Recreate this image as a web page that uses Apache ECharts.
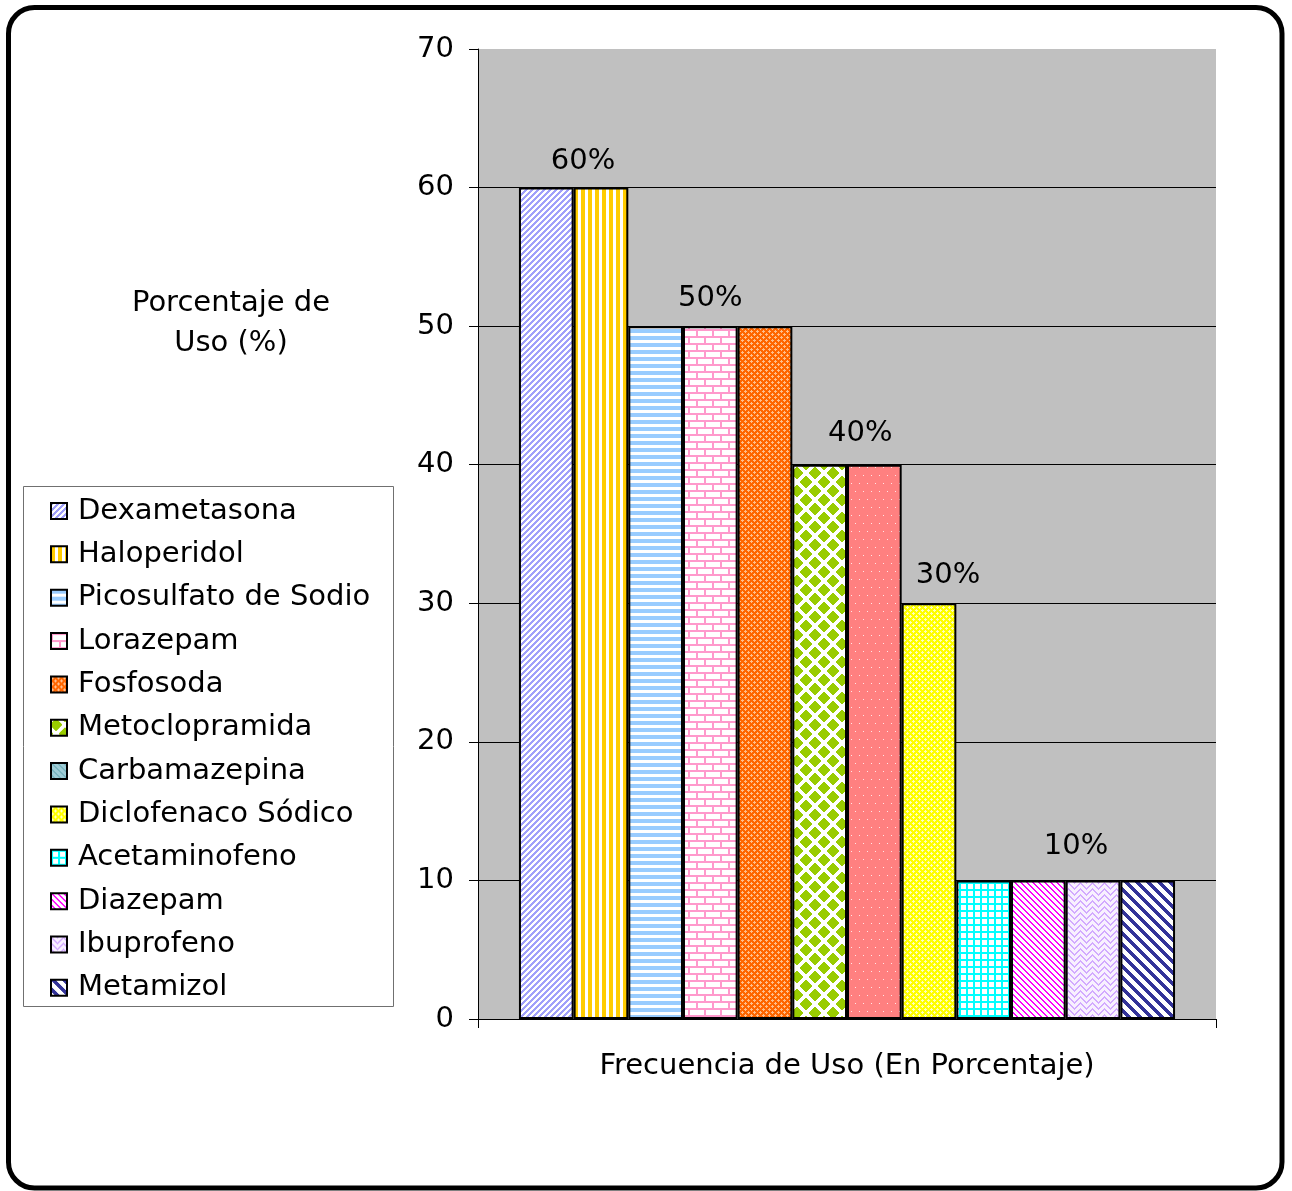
<!DOCTYPE html>
<html>
<head>
<meta charset="utf-8">
<title>Frecuencia de Uso</title>
<script src="https://cdn.jsdelivr.net/npm/echarts@6/dist/echarts.min.js"></script>
<style>
  html, body { margin: 0; padding: 0; background: #ffffff; }
  #chart { width: 1292px; height: 1191px; }
</style>
</head>
<body>
<div id="chart"></div>
<script>
// Medicamentos y porcentaje de uso
var medicamentos = ['Dexametasona', 'Haloperidol', 'Picosulfato de Sodio', 'Lorazepam', 'Fosfosoda',
  'Metoclopramida', 'Carbamazepina', 'Diclofenaco Sódico', 'Acetaminofeno', 'Diazepam', 'Ibuprofeno', 'Metamizol'];
var porcentajes = [60, 60, 50, 50, 50, 40, 40, 30, 10, 10, 10, 10];
// Series that carry the percentage label, with the label's shift [x, y]
var etiquetas = {
  'Haloperidol': [-18, 2], 'Lorazepam': [0, 0], 'Carbamazepina': [-14, -3],
  'Diclofenaco Sódico': [19, 0], 'Ibuprofeno': [-17, -6]
};
var categorias = ['Frecuencia'];
var ejeY = { min: 0, max: 70, interval: 10 };

var FONT = 'DejaVu Sans';
var FS = 29;

// Build a repeating pixel tile from a colour function
function tile(w, h, fn) {
  var c = document.createElement('canvas');
  c.width = w; c.height = h;
  var ctx = c.getContext('2d');
  var img = ctx.createImageData(w, h);
  for (var y = 0; y < h; y++) {
    for (var x = 0; x < w; x++) {
      var col = fn(x, y);
      var i = (y * w + x) * 4;
      img.data[i] = col[0]; img.data[i + 1] = col[1]; img.data[i + 2] = col[2]; img.data[i + 3] = 255;
    }
  }
  ctx.putImageData(img, 0, 0);
  return { image: c, repeat: 'repeat' };
}
function mod(a, n) { return ((a % n) + n) % n; }
var W = [255, 255, 255];

var rellenos = {
  'Dexametasona': tile(6, 6, function (x, y) { return mod(x + y, 6) < 3 ? [160, 160, 250] : W; }),
  'Haloperidol': tile(7, 1, function (x) { return x < 4 ? [255, 204, 0] : W; }),
  'Picosulfato de Sodio': tile(1, 7, function (x, y) { return y < 4 ? [153, 204, 255] : W; }),
  'Lorazepam': tile(16, 14, function (x, y) {
    var pink = [255, 153, 204];
    if (y % 7 < 2) return pink;
    if (y < 7 && x < 2) return pink;
    if (y >= 7 && x >= 8 && x < 10) return pink;
    return W;
  }),
  'Fosfosoda': tile(6, 6, function (x, y) {
    var dots = [[1,0],[0,1],[1,1],[2,1],[1,2],[4,3],[3,4],[4,4],[5,4],[4,5]];
    for (var k = 0; k < dots.length; k++) if (dots[k][0] === x && dots[k][1] === y) return [255, 190, 140];
    return [255, 102, 0];
  }),
  'Metoclopramida': tile(18, 18, function (x, y) {
    // green diamonds on white
    var d1 = Math.abs(x - 4.5) + Math.abs(y - 4.5);
    var d2 = Math.abs(x - 13.5) + Math.abs(y - 13.5);
    var d3 = Math.abs(x - 13.5) + Math.abs(y + 4.5);
    var d4 = Math.abs(x + 4.5) + Math.abs(y - 13.5);
    var d5 = Math.abs(x - 22.5) + Math.abs(y - 4.5);
    var d6 = Math.abs(x - 4.5) + Math.abs(y - 22.5);
    var r = 6.6;
    return (d1 < r || d2 < r || d3 < r || d4 < r || d5 < r || d6 < r) ? [153, 204, 0] : W;
  }),
  'Carbamazepina': tile(16, 16, function (x, y) {
    var white = (mod(x, 8) === 3 && y === 3) || (mod(x, 8) === 7 && y === 11);
    return white ? [255, 230, 230] : [255, 128, 128];
  }),
  'Diclofenaco Sódico': tile(6, 6, function (x, y) {
    var dots = [[1,0],[0,1],[1,1],[2,1],[1,2],[4,3],[3,4],[4,4],[5,4],[4,5]];
    for (var k = 0; k < dots.length; k++) if (dots[k][0] === x && dots[k][1] === y) return [255, 255, 190];
    return [255, 255, 0];
  }),
  'Acetaminofeno': tile(7, 7, function (x, y) { return (x < 2 || y < 2) ? [0, 255, 255] : W; }),
  'Diazepam': tile(6, 6, function (x, y) { return mod(x - y, 6) < 2 ? [255, 0, 255] : W; }),
  'Ibuprofeno': tile(12, 12, function (x, y) {
    var d = Math.abs(x - 6);
    return mod(d + y, 6) < 2 ? [210, 170, 255] : [248, 240, 255];
  }),
  'Metamizol': tile(11, 11, function (x, y) { return mod(x - y, 11) < 5 ? [51, 51, 153] : W; })
};
// Legend swatch of Carbamazepina
var muestraCarbamazepina = tile(6, 6, function (x, y) { return mod(x - y, 6) < 2 ? [120, 180, 190] : [160, 205, 215]; });

var series = medicamentos.map(function (nombre, i) {
  var s = {
    name: nombre,
    type: 'bar',
    data: [porcentajes[i]],
    barGap: '0%',
    barCategoryGap: '11.1%',
    itemStyle: { color: rellenos[nombre], borderColor: '#000000', borderWidth: 2 },
    emphasis: { disabled: true }
  };
  if (etiquetas.hasOwnProperty(nombre)) {
    s.label = {
      show: true, position: 'top', distance: 14, offset: etiquetas[nombre],
      formatter: '{c}%', color: '#000', fontFamily: FONT, fontSize: FS, lineHeight: 28
    };
  }
  return s;
});

var legendData = medicamentos.map(function (nombre) {
  var item = { name: nombre };
  if (nombre === 'Carbamazepina') item.itemStyle = { color: muestraCarbamazepina };
  return item;
});

var chart = echarts.init(document.getElementById('chart'), null, { renderer: 'canvas' });
chart.setOption({
  animation: false,
  backgroundColor: '#ffffff',
  grid: {
    left: 478, top: 49, width: 738, height: 970,
    show: true, backgroundColor: '#c0c0c0', borderWidth: 0
  },
  legend: {
    orient: 'vertical', left: 45, top: 491,
    data: legendData,
    icon: 'rect', itemWidth: 16, itemHeight: 16, itemGap: 13.35,
    itemStyle: { borderColor: '#000', borderWidth: 2 },
    textStyle: { fontFamily: FONT, fontSize: FS, lineHeight: 30, color: '#000', padding: [0, 0, 0, 6] },
    selectedMode: false
  },
  xAxis: {
    type: 'category', data: categorias,
    name: 'Frecuencia de Uso (En Porcentaje)', nameLocation: 'middle', nameGap: 33,
    nameTextStyle: { fontFamily: FONT, fontSize: FS, color: '#000' },
    axisLine: { lineStyle: { color: '#000', width: 1 } },
    axisTick: { show: true, length: 9, lineStyle: { color: '#000' } },
    axisLabel: { show: false }
  },
  yAxis: {
    type: 'value', min: ejeY.min, max: ejeY.max, interval: ejeY.interval,
    axisLine: { show: true, lineStyle: { color: '#000', width: 1 } },
    axisTick: { show: true, length: 9, lineStyle: { color: '#000' } },
    axisLabel: { fontFamily: FONT, fontSize: FS, color: '#000', margin: 24 },
    splitLine: { show: true, lineStyle: { color: ['#000', '#000', '#000', '#000', '#000', '#000', '#000', '#c0c0c0'], width: 1 } }
  },
  graphic: [
    {
      type: 'rect', z: 1, silent: true,
      shape: { x: 23.5, y: 486.5, width: 370, height: 520 },
      style: { fill: '#ffffff', stroke: '#707070', lineWidth: 1 }
    },
    {
      type: 'text', silent: true,
      style: {
        text: 'Porcentaje de\nUso (%)', x: 231, y: 323, align: 'center', verticalAlign: 'middle',
        fontFamily: FONT, fontSize: FS, lineHeight: 40, fill: '#000'
      }
    },
    {
      type: 'rect', z: 10, silent: true,
      shape: { x: 8.5, y: 7.5, width: 1273.5, height: 1180.5, r: 26 },
      style: { fill: 'none', stroke: '#000000', lineWidth: 5 }
    }
  ],
  series: series
});
</script>
</body>
</html>
